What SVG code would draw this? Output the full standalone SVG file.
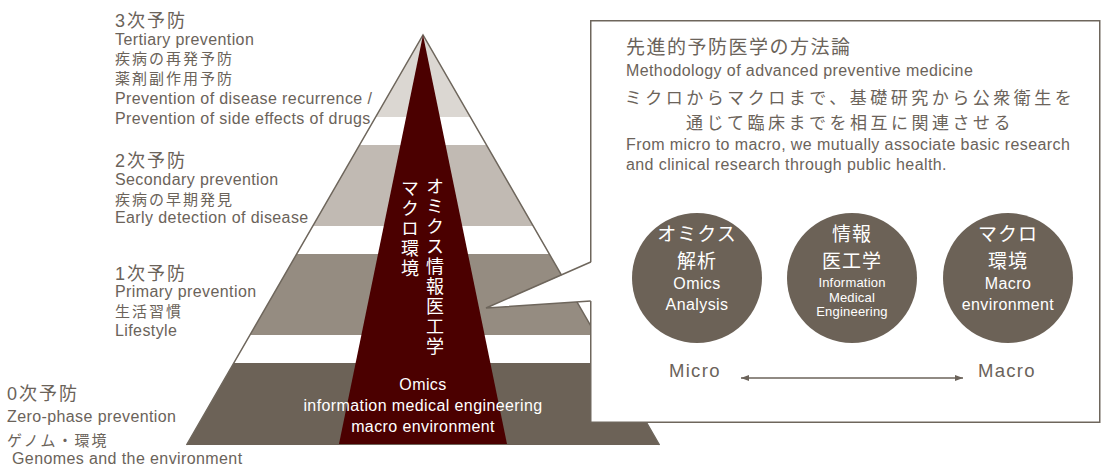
<svg xmlns="http://www.w3.org/2000/svg" width="1102" height="468" viewBox="0 0 1102 468">
<style>
.t{font-family:"Liberation Sans","Noto Sans CJK JP",sans-serif;fill:#6b635a}
.en{font-size:16px;letter-spacing:0.4px}
.jh{font-size:18px;letter-spacing:2px}
.jb{font-family:"Noto Sans CJK JP",sans-serif;font-size:15px;letter-spacing:2px}
.jt{font-family:"Noto Sans CJK JP",sans-serif;font-size:19px;letter-spacing:1.5px}
.jm{font-family:"Noto Sans CJK JP",sans-serif;font-size:17px;letter-spacing:3.5px}
.w{fill:#ffffff}
.c{text-anchor:middle}
.circ{fill:#6c6257}
.jc{font-family:"Noto Sans CJK JP",sans-serif;font-size:19px;letter-spacing:1px}
.sm{font-size:13px;letter-spacing:0.2px}
.edge{fill:none;stroke:#6e665c;stroke-width:1.5}
</style>
<defs>
<marker id="ah" markerUnits="userSpaceOnUse" markerWidth="9" markerHeight="8" refX="8" refY="3" orient="auto-start-reverse">
<path d="M0,0 L8,3 L0,6 z" fill="#6b635a"/>
</marker>
</defs>
<rect width="1102" height="468" fill="#ffffff"/>

<g id="level3">
<polygon points="423,35 470.3,117 375.7,117" fill="#dbd7d2"/>
<text class="t jh" x="115" y="27">3次予防</text>
<text class="t en" x="115" y="45">Tertiary prevention</text>
<text class="t jb" x="115" y="64">疾病の再発予防</text>
<text class="t jb" x="115" y="84">薬剤副作用予防</text>
<text class="t en" x="115" y="104">Prevention of disease recurrence /</text>
<text class="t en" x="115" y="124">Prevention of side effects of drugs</text>
</g>
<g id="level2">
<polygon points="359.6,145 486.4,145 533.2,226 312.8,226" fill="#c1bab3"/>
<text class="t jh" x="115" y="167">2次予防</text>
<text class="t en" x="115" y="185">Secondary prevention</text>
<text class="t jb" x="115" y="205">疾病の早期発見</text>
<text class="t en" x="115" y="223">Early detection of disease</text>
</g>
<g id="level1">
<polygon points="296.7,254 549.3,254 596,335 250,335" fill="#958c81"/>
<text class="t jh" x="115" y="280">1次予防</text>
<text class="t en" x="115" y="297">Primary prevention</text>
<text class="t jb" x="115" y="317">生活習慣</text>
<text class="t en" x="115" y="336">Lifestyle</text>
</g>
<g id="level0">
<polygon points="233.8,363 612.2,363 659.5,445 186.5,445" fill="#6c6257"/>
<text class="t jh" x="7" y="400">0次予防</text>
<text class="t en" x="7" y="422">Zero-phase prevention</text>
<text class="t jb" x="7" y="446">ゲノム・環境</text>
<text class="t en" x="12" y="464">Genomes and the environment</text>
</g>
<g id="pyramid-outline">
<polyline class="edge" points="186.5,445 423,35 659.5,445"/>
</g>

<g id="axis">
<polygon points="423,35 507,444 339,444" fill="#4b0000"/>
<text class="w" x="435" y="177" writing-mode="vertical-rl" style="font-family:'Noto Sans CJK JP',sans-serif;font-size:18px;letter-spacing:2px">オミクス情報医工学</text>
<text class="w" x="410" y="179" writing-mode="vertical-rl" style="font-family:'Noto Sans CJK JP',sans-serif;font-size:18px;letter-spacing:2px">マクロ環境</text>
<text class="t en w c" x="423" y="390">Omics</text>
<text class="t en w c" x="423" y="411">information medical engineering</text>
<text class="t en w c" x="423" y="432">macro environment</text>
</g>

<g id="callout">
<rect x="590.75" y="20.75" width="509" height="401.5" fill="#ffffff" stroke="#6e665c" stroke-width="1.5"/>
<polygon points="592,262 486,308 592,301" fill="#ffffff"/>
<polyline class="edge" points="590.75,262 486,308 590.75,301"/>
<text class="t jt" x="626" y="54">先進的予防医学の方法論</text>
<text class="t en" x="626" y="76">Methodology of advanced preventive medicine</text>
<text class="t jm c"><tspan x="850" y="104">ミクロからマクロまで、基礎研究から公衆衛生を</tspan><tspan x="850" y="129">通じて臨床までを相互に関連させる</tspan></text>
<text class="t en" x="626" y="150">From micro to macro, we mutually associate basic research</text>
<text class="t en" x="626" y="170">and clinical research through public health.</text>
</g>

<g id="omics">
<circle class="circ" cx="697" cy="278" r="65"/>
<text class="t jc w c" x="697" y="241">オミクス</text>
<text class="t jc w c" x="697" y="268">解析</text>
<text class="t en w c" x="697" y="289">Omics</text>
<text class="t en w c" x="697" y="310">Analysis</text>
</g>
<g id="info-med-eng">
<circle class="circ" cx="852" cy="278" r="65"/>
<text class="t jc w c" x="852" y="241">情報</text>
<text class="t jc w c" x="852" y="268">医工学</text>
<text class="t sm w c" x="852" y="287">Information</text>
<text class="t sm w c" x="852" y="302">Medical</text>
<text class="t sm w c" x="852" y="316">Engineering</text>
</g>
<g id="macro-env">
<circle class="circ" cx="1008" cy="278" r="65"/>
<text class="t jc w c" x="1008" y="241">マクロ</text>
<text class="t jc w c" x="1008" y="268">環境</text>
<text class="t en w c" x="1008" y="289">Macro</text>
<text class="t en w c" x="1008" y="310">environment</text>
</g>

<g id="scale-labels">
<text class="t" x="669" y="377" style="font-size:18.5px;letter-spacing:1.3px">Micro</text>
<text class="t" x="978" y="377" style="font-size:18.5px;letter-spacing:1.3px">Macro</text>
</g>
<g id="connectors">
<line x1="741" y1="378" x2="963" y2="378" stroke="#6b635a" stroke-width="1.3" marker-start="url(#ah)" marker-end="url(#ah)"/>
</g>
</svg>
